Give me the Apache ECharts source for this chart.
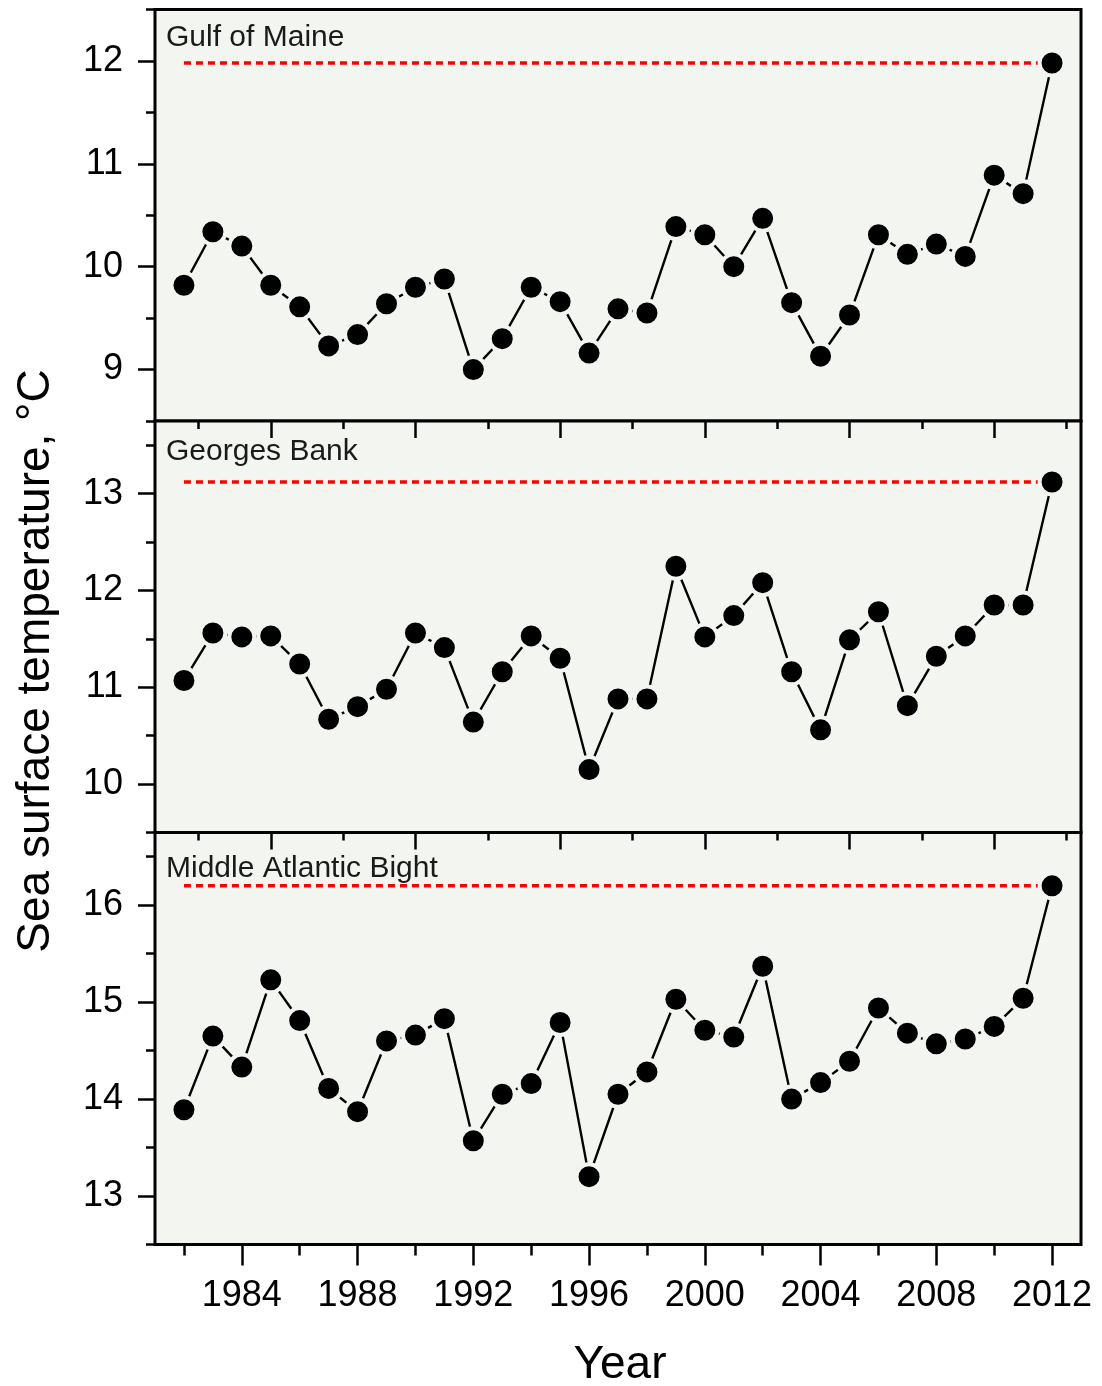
<!DOCTYPE html>
<html>
<head>
<meta charset="utf-8">
<script src="https://cdn.jsdelivr.net/npm/echarts@6/dist/echarts.min.js"></script>
<style>
html,body{margin:0;padding:0;background:#ffffff;}
#chart{width:1102px;height:1386px;}
</style>
</head>
<body>
<div id="chart"></div>
<script>
// ---- data ----
const years = [1982,1983,1984,1985,1986,1987,1988,1989,1990,1991,1992,1993,1994,1995,1996,1997,1998,1999,2000,2001,2002,2003,2004,2005,2006,2007,2008,2009,2010,2011,2012];
const gulfOfMaine = [9.82,10.34,10.20,9.82,9.61,9.23,9.34,9.64,9.80,9.88,9.00,9.30,9.80,9.66,9.16,9.59,9.55,10.39,10.31,10.00,10.47,9.65,9.13,9.53,10.31,10.12,10.22,10.10,10.89,10.71,11.98];
const georgesBank = [11.07,11.56,11.52,11.53,11.24,10.67,10.80,10.98,11.56,11.41,10.64,11.16,11.53,11.30,10.15,10.88,10.88,12.25,11.52,11.74,12.08,11.16,10.56,11.49,11.78,10.81,11.32,11.53,11.85,11.85,13.12];
const midAtlantic = [13.89,14.65,14.33,15.23,14.81,14.11,13.87,14.60,14.66,14.83,13.57,14.05,14.16,14.79,13.20,14.05,14.28,15.03,14.71,14.64,15.37,14.00,14.17,14.39,14.94,14.68,14.57,14.62,14.75,15.04,16.20];
const panelNames = ["Gulf of Maine","Georges Bank","Middle Atlantic Bight"];

// ---- tick labels ----
const yearLabelTicks = [1984,1988,1992,1996,2000,2004,2008,2012];
const yearMinorTicks = [1982,1986,1990,1994,1998,2002,2006,2010];
const topMajorTicks = [1985,1990,1995,2000,2005,2010];
const topMinorTicks = [1982.5,1987.5,1992.5,1997.5,2002.5,2007.5,2012.5];
const gomTicks = [9,10,11,12];
const gomMinor = [8.5,9.5,10.5,11.5,12.5];
const gbTicks = [10,11,12,13];
const gbMinor = [9.5,10.5,11.5,12.5,13.5];
const mabTicks = [13,14,15,16];
const mabMinor = [12.5,13.5,14.5,15.5,16.5];

const seriesData = [gulfOfMaine, georgesBank, midAtlantic];
const majorTicks = [gomTicks, gbTicks, mabTicks];
const minorTicks = [gomMinor, gbMinor, mabMinor];
const yRanges = [[8.5,12.5],[9.5,13.75],[12.5,16.75]];

const BG = '#f2f5f0';
const FONT = '"Liberation Sans", Arial, sans-serif';
const grids = [
  {left:155, right:21, top:9.5, height:411.5},
  {left:155, right:21, top:421, height:411.5},
  {left:155, right:21, top:832.5, height:412}
].map(g => Object.assign(g, {show:true, backgroundColor:BG, borderColor:'#000', borderWidth:3, containLabel:false}));

const X_MIN = 1981, X_MAX = 2013;
const tickLine = {color:'#000', width:2.5};

function baseX(gridIndex, extra){
  return Object.assign({
    type:'value', gridIndex, min:X_MIN, max:X_MAX,
    axisLine:{show:false}, splitLine:{show:false},
    axisLabel:{show:false}, axisTick:{show:false}
  }, extra);
}
function baseY(gridIndex, extra){
  return Object.assign({
    type:'value', gridIndex, min:yRanges[gridIndex][0], max:yRanges[gridIndex][1],
    position:'left',
    axisLine:{show:false}, splitLine:{show:false},
    axisLabel:{show:false}, axisTick:{show:false}
  }, extra);
}

const xAxis = [];
const xMain = [];
xMain.push(xAxis.length);
xAxis.push(baseX(0, {position:'bottom'}));
for (const gi of [1,2]) {
  xMain.push(xAxis.length);
  xAxis.push(baseX(gi, {position:'top', axisTick:{show:true, inside:true, length:17, lineStyle:tickLine, customValues:topMajorTicks}}));
  xAxis.push(baseX(gi, {position:'top', axisTick:{show:true, inside:true, length:8, lineStyle:tickLine, customValues:topMinorTicks}}));
}
xAxis.push(baseX(2, {position:'bottom',
  axisTick:{show:true, inside:false, length:21, lineStyle:tickLine, customValues:yearLabelTicks},
  axisLabel:{show:true, customValues:yearLabelTicks, margin:34, color:'#000', fontSize:36, fontFamily:FONT, formatter:v=>String(v)}
}));
xAxis.push(baseX(2, {position:'bottom',
  axisTick:{show:true, inside:false, length:11, lineStyle:tickLine, customValues:yearMinorTicks}
}));

const yAxis = [];
const yMain = [];
for (let gi=0; gi<3; gi++){
  yMain.push(yAxis.length);
  yAxis.push(baseY(gi, {
    axisTick:{show:true, inside:false, length:17, lineStyle:tickLine, customValues:majorTicks[gi]},
    axisLabel:{show:true, customValues:majorTicks[gi], margin:32, color:'#000', fontSize:36, fontFamily:FONT}
  }));
  yAxis.push(baseY(gi, {
    axisTick:{show:true, inside:false, length:9, lineStyle:tickLine, customValues:minorTicks[gi]}
  }));
}

const series = [];
for (let gi=0; gi<3; gi++){
  const vals = seriesData[gi];
  const last = vals[vals.length-1];
  series.push({
    type:'line', xAxisIndex:xMain[gi], yAxisIndex:yMain[gi], z:1,
    data:[[years[0], last],[years[years.length-1], last]],
    showSymbol:false, symbol:'none', silent:true,
    lineStyle:{color:'#ff0000', width:3.5, type:[7,5]}
  });
  series.push({
    type:'line', xAxisIndex:xMain[gi], yAxisIndex:yMain[gi], z:2,
    data:years.map((y,i)=>[y, vals[i]]),
    symbol:'circle', symbolSize:25, showAllSymbol:true,
    itemStyle:{color:'#000', borderColor:BG, borderWidth:4},
    lineStyle:{color:'#000', width:2.4}
  });
}

const labelY = [39, 453, 870];
const graphic = panelNames.map((n,i)=>({
  type:'text', left:166, top:labelY[i]-16,
  style:{text:n, fill:'#1a1a1a', font:'30px "Liberation Sans", Arial, sans-serif'}
}));
graphic.push({
  type:'text', x:36, y:661, rotation:Math.PI/2,
  style:{text:'Sea surface temperature, °C', fill:'#000', font:'46px "Liberation Sans", Arial, sans-serif', align:'center', verticalAlign:'middle'}
});
graphic.push({
  type:'text', x:620, y:1365,
  style:{text:'Year', fill:'#000', font:'46px "Liberation Sans", Arial, sans-serif', align:'center', verticalAlign:'middle'}
});

const chart = echarts.init(document.getElementById('chart'), null, {renderer:'canvas'});
chart.setOption({
  animation:false,
  backgroundColor:'#ffffff',
  grid:grids, xAxis, yAxis, series, graphic
});
</script>
</body>
</html>
